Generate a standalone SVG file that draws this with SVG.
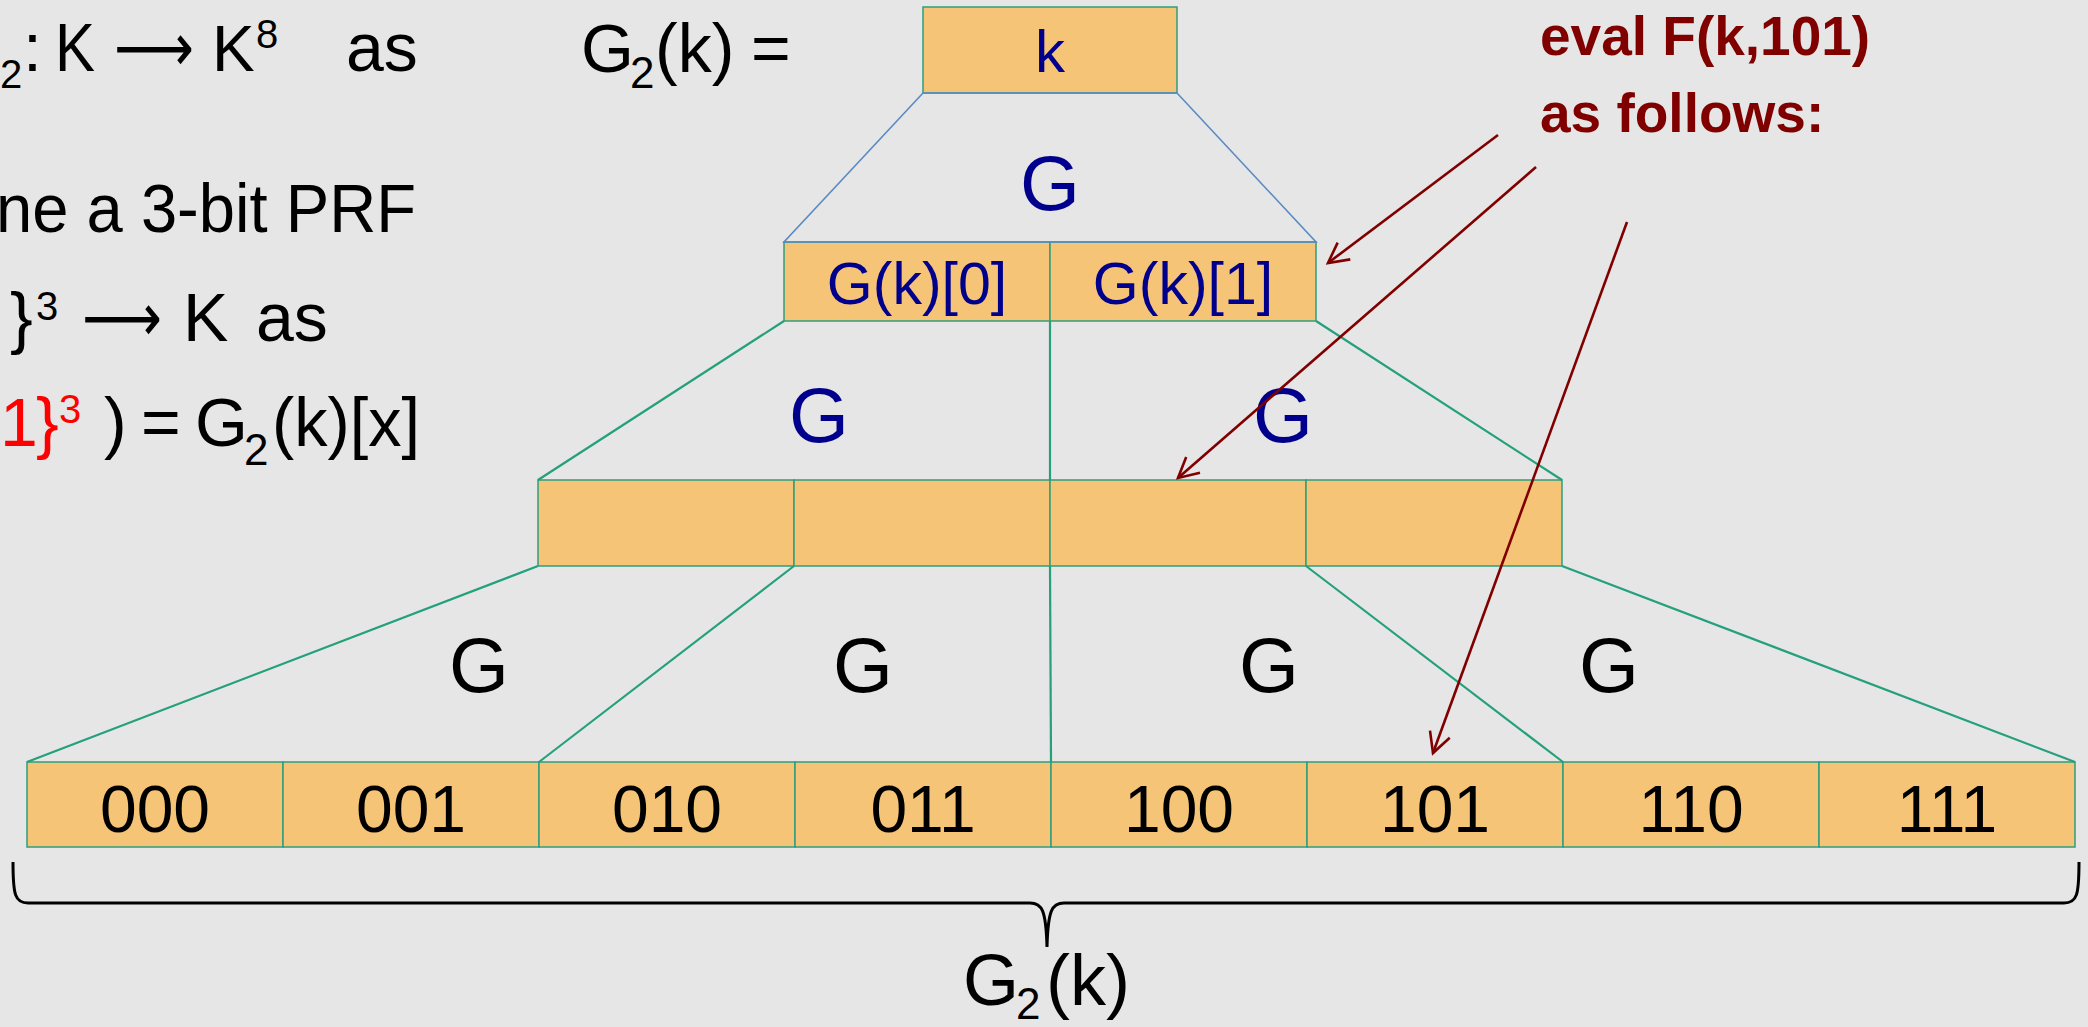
<svg xmlns="http://www.w3.org/2000/svg" width="2088" height="1027" viewBox="0 0 2088 1027">
<defs>
<style>
.bg{fill:#E6E6E6}
.box{fill:#F6C477;stroke:#2E9E7E;stroke-width:1.5}
.blue-line{stroke:#5A8BC4;stroke-width:1.6;fill:none}
.green-line{stroke:#24A07C;stroke-width:2.2;fill:none}
.red-arrow{stroke:#800000;stroke-width:2.6;fill:none;marker-end:url(#ah)}
.brace{stroke:#000;stroke-width:3;fill:none}
.t{font-family:"Liberation Sans",Arial,sans-serif;fill:#000}
.blue{fill:#00008C}
.red{fill:#FF0000}
.dred{fill:#800000;font-weight:bold}
.arr{font-family:"DejaVu Sans",sans-serif}
.num{font-family:"Liberation Sans",Arial,sans-serif;font-size:66px;text-anchor:middle;fill:#000}
.bigG{font-family:"Liberation Sans",Arial,sans-serif;font-size:77px;text-anchor:middle}
</style>
<marker id="ah" markerUnits="userSpaceOnUse" markerWidth="26" markerHeight="26" viewBox="-2 -13 26 26" refX="20" refY="0" orient="auto">
<path d="M0,-10.5 L20,0 L0,10.5" stroke="#800000" stroke-width="2.6" fill="none"/>
</marker>
</defs>
<rect class="bg" x="0" y="0" width="2088" height="1027"/>

<g id="left-text" class="t">
<text y="71" font-size="68"><tspan x="0" y="88" font-size="40">2</tspan><tspan x="23" y="71">:</tspan><tspan x="55" y="71" textLength="40" lengthAdjust="spacingAndGlyphs">K</tspan><tspan class="arr" x="114" y="71" textLength="80" lengthAdjust="spacingAndGlyphs">⟶</tspan><tspan x="212" y="71" font-size="64">K</tspan><tspan x="256" y="48" font-size="40">8</tspan><tspan x="346" y="71">as</tspan></text>

<text x="-4" y="232" font-size="68" textLength="420" lengthAdjust="spacingAndGlyphs">ne a 3-bit PRF</text>

<text y="341" font-size="68"><tspan x="10" y="341">}</tspan><tspan x="36" y="320" font-size="40">3</tspan><tspan class="arr" x="82" y="341" textLength="80" lengthAdjust="spacingAndGlyphs">⟶</tspan><tspan x="183" y="341">K</tspan><tspan x="256" y="341">as</tspan></text>

<text y="446" font-size="68"><tspan class="red" x="0" y="446">1</tspan><tspan class="red" x="36" y="446">}</tspan><tspan class="red" x="59" y="423" font-size="40">3</tspan><tspan x="104" y="446">)</tspan><tspan x="141" y="446">=</tspan><tspan x="195" y="446">G</tspan><tspan x="244" y="465" font-size="44">2</tspan><tspan x="272" y="446" textLength="148" lengthAdjust="spacingAndGlyphs">(k)[x]</tspan></text>
</g>

<g id="g2k-label" class="t">
<text y="72" font-size="68"><tspan x="581" y="72">G</tspan><tspan x="630" y="88" font-size="44">2</tspan><tspan x="655" y="72">(k)</tspan><tspan x="751" y="72">=</tspan></text>
</g>

<g id="note" class="t dred">
<text x="1540" y="55" font-size="55">eval F(k,101)</text>
<text x="1540" y="132" font-size="55">as follows:</text>
</g>

<g id="node-k">
<rect class="box" x="923" y="7" width="254" height="86"/>
<text class="t blue" x="1050" y="72" font-size="60" text-anchor="middle">k</text>
</g>
<g id="node-g0">
<rect class="box" x="784" y="242" width="266" height="79"/>
<text class="t blue" x="917" y="304" font-size="59" text-anchor="middle">G(k)[0]</text>
</g>
<g id="node-g1">
<rect class="box" x="1050" y="242" width="266" height="79"/>
<text class="t blue" x="1183" y="304" font-size="59" text-anchor="middle">G(k)[1]</text>
</g>
<g id="node-l2-0"><rect class="box" x="538" y="480" width="256" height="86"/></g>
<g id="node-l2-1"><rect class="box" x="794" y="480" width="256" height="86"/></g>
<g id="node-l2-2"><rect class="box" x="1050" y="480" width="256" height="86"/></g>
<g id="node-l2-3"><rect class="box" x="1306" y="480" width="256" height="86"/></g>

<g id="node-000"><rect class="box" x="27" y="762" width="256" height="85"/><text class="num" x="155" y="832">000</text></g>
<g id="node-001"><rect class="box" x="283" y="762" width="256" height="85"/><text class="num" x="411" y="832">001</text></g>
<g id="node-010"><rect class="box" x="539" y="762" width="256" height="85"/><text class="num" x="667" y="832">010</text></g>
<g id="node-011"><rect class="box" x="795" y="762" width="256" height="85"/><text class="num" x="923" y="832">011</text></g>
<g id="node-100"><rect class="box" x="1051" y="762" width="256" height="85"/><text class="num" x="1179" y="832">100</text></g>
<g id="node-101"><rect class="box" x="1307" y="762" width="256" height="85"/><text class="num" x="1435" y="832">101</text></g>
<g id="node-110"><rect class="box" x="1563" y="762" width="256" height="85"/><text class="num" x="1691" y="832">110</text></g>
<g id="node-111"><rect class="box" x="1819" y="762" width="256" height="85"/><text class="num" x="1947" y="832">111</text></g>

<g id="connectors">
<polygon class="blue-line" points="923,93 1177,93 1316,242 784,242"/>
<line class="green-line" x1="784" y1="321" x2="538" y2="480"/>
<line class="green-line" x1="1050" y1="321" x2="1050" y2="480"/>
<line class="green-line" x1="1316" y1="321" x2="1562" y2="480"/>
<line class="green-line" x1="538" y1="566" x2="27" y2="762"/>
<line class="green-line" x1="794" y1="566" x2="539" y2="762"/>
<line class="green-line" x1="1050" y1="566" x2="1051" y2="762"/>
<line class="green-line" x1="1306" y1="566" x2="1563" y2="762"/>
<line class="green-line" x1="1562" y1="566" x2="2075" y2="762"/>

<text class="bigG blue" x="1050" y="210">G</text>
<text class="bigG blue" x="819" y="442">G</text>
<text class="bigG blue" x="1283" y="442">G</text>
<text class="bigG" x="479" y="692">G</text>
<text class="bigG" x="863" y="692">G</text>
<text class="bigG" x="1269" y="692">G</text>
<text class="bigG" x="1609" y="692">G</text>

<path class="brace" d="M13,862 C13,895 15,903 28,903 L1030,903 C1042,903 1046,910 1047,947 C1048,910 1052,903 1064,903 L2064,903 C2077,903 2079,895 2079,862"/>

<line class="red-arrow" x1="1498" y1="135" x2="1328" y2="263"/>
<line class="red-arrow" x1="1536" y1="167" x2="1178" y2="478"/>
<line class="red-arrow" x1="1627" y1="222" x2="1433" y2="753"/>
</g>

<g id="brace-label" class="t">
<text y="1005" font-size="72"><tspan x="963" y="1005">G</tspan><tspan x="1016" y="1019" font-size="44">2</tspan><tspan x="1046" y="1005">(k)</tspan></text>
</g>
</svg>
